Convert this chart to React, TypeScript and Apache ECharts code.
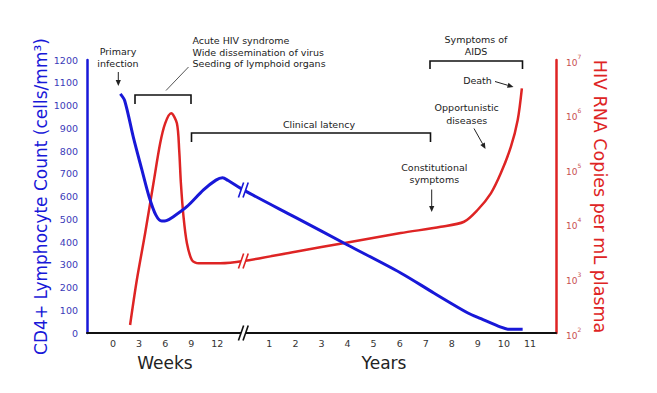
import React, { useEffect, useRef } from 'react';
import * as echarts from 'echarts';

// ---- data (x in chart units: weeks 0..12 -> 1..5, years 1..11 -> 7..17) ----
const weekTickLabels = ['0', '3', '6', '9', '12'];
const yearTickLabels = ['1', '2', '3', '4', '5', '6', '7', '8', '9', '10', '11'];

const cd4X = [1.28, 1.45, 1.78, 2.10, 2.38, 2.64, 2.87, 3.05, 3.30, 3.83, 4.47, 4.95, 5.20, 5.42, 6.0, 8.0, 10.0, 12.04, 13.31, 14.62, 15.12, 15.88, 16.15, 16.72];
const cd4Values = [1051, 1020, 860, 720, 600, 519, 492, 494, 510, 555, 629, 672, 682, 670, 629, 508, 387, 264, 176, 88, 63, 26, 17, 16];

const rnaX = [1.654, 1.912, 2.231, 2.55, 2.808, 3.0, 3.231, 3.45, 3.538, 3.604, 3.704, 3.835, 4.027, 4.281, 5.115, 6.0, 8.0, 10.0, 12.04, 13.58, 14.47, 14.99, 15.5, 15.88, 16.27, 16.53, 16.69];
const rnaValues = [140, 933, 6700, 55200, 298000, 692000, 1057000, 692000, 225000, 55200, 13500, 4400, 2170, 1890, 1890, 2080, 3080, 4560, 6760, 8800, 10900, 17900, 36200, 84100, 258000, 794000, 3020000];

const breakX = 6;
const cd4Break = 629;
const rnaBreak = 2080;

const BLUE = '#1818d8';
const RED = '#de2424';
const TXT = '#222';
const FONT = 'DejaVu Sans';

function breakMark(cx: number, cy: number, color: string, lw: number) {
  const dx = 2.6, dy = 7.5, gap = 2.3;
  return [
    {
      type: 'polygon', z: 100,
      shape: { points: [[cx - gap - dx, cy + dy], [cx - gap + dx, cy - dy], [cx + gap + dx, cy - dy], [cx + gap - dx, cy + dy]] },
      style: { fill: '#fff' },
    },
    { type: 'line', z: 101, shape: { x1: cx - gap - dx, y1: cy + dy, x2: cx - gap + dx, y2: cy - dy }, style: { stroke: color, lineWidth: lw } },
    { type: 'line', z: 101, shape: { x1: cx + gap - dx, y1: cy + dy, x2: cx + gap + dx, y2: cy - dy }, style: { stroke: color, lineWidth: lw } },
  ];
}

function arrow(x1: number, y1: number, x2: number, y2: number) {
  const ang = Math.atan2(y2 - y1, x2 - x1);
  const L = 6, W = 2.6;
  const bx = x2 - L * Math.cos(ang), by = y2 - L * Math.sin(ang);
  const px = -Math.sin(ang) * W, py = Math.cos(ang) * W;
  return [
    { type: 'line', z: 100, shape: { x1, y1, x2: bx, y2: by }, style: { stroke: TXT, lineWidth: 1 } },
    { type: 'polygon', z: 100, shape: { points: [[x2, y2], [bx + px, by + py], [bx - px, by - py]] }, style: { fill: TXT } },
  ];
}

function txt(x: number, y: number, text: string, align: string = 'center', size = 9.5, color = TXT) {
  return {
    type: 'text', z: 100, x, y,
    style: { text, fill: color, font: `${size}px "${FONT}"`, textAlign: align, textVerticalAlign: 'middle' },
  };
}

function bracket(x1: number, x2: number, y: number, drop: number) {
  return {
    type: 'polyline', z: 100,
    shape: { points: [[x1, y + drop], [x1, y], [x2, y], [x2, y + drop]] },
    style: { stroke: '#111', lineWidth: 1.6, fill: null },
  };
}

export default function App() {
  const ref = useRef<HTMLDivElement>(null);
  useEffect(() => {
    if (!ref.current) return;
    const chart = echarts.init(ref.current, null, { renderer: 'svg' });
    chart.setOption({
      animation: false,
      backgroundColor: '#fff',
      textStyle: { fontFamily: FONT },
      grid: { left: 87, right: 101, top: 60, bottom: 60 },
      xAxis: {
        type: 'value', min: 0, max: 18, interval: 1,
        axisLine: { show: true, lineStyle: { color: '#111', width: 2 } },
        axisTick: { show: false },
        splitLine: { show: false },
        axisLabel: {
          color: '#333', fontSize: 9.5, margin: 5, fontFamily: FONT,
          formatter: (v: number) => {
            if (v >= 1 && v <= 5) return weekTickLabels[v - 1];
            if (v >= 7 && v <= 17) return yearTickLabels[v - 7];
            return '';
          },
        },
      },
      yAxis: [
        {
          type: 'value', min: 0, max: 1200, interval: 100, position: 'left',
          name: 'CD4+ Lymphocyte Count (cells/mm³)', nameLocation: 'middle', nameGap: 38, nameRotate: 90,
          nameMoveOverlap: false,
          nameTextStyle: { color: BLUE, fontSize: 17, fontFamily: FONT },
          axisLine: { show: true, lineStyle: { color: BLUE, width: 2.5 } },
          axisTick: { show: false },
          splitLine: { show: false },
          axisLabel: { color: '#3a3ab8', fontSize: 9.5, margin: 9, fontFamily: FONT, formatter: (v: number) => String(v) },
        },
        {
          type: 'log', logBase: 10, min: 100, max: 10000000, position: 'right',
          name: 'HIV RNA Copies per mL plasma', nameLocation: 'middle', nameGap: 35, nameRotate: -90,
          nameMoveOverlap: false,
          nameTextStyle: { color: RED, fontSize: 17.5, fontFamily: FONT },
          axisLine: { show: true, lineStyle: { color: RED, width: 2.5 } },
          axisTick: { show: false },
          splitLine: { show: false },
          axisLabel: {
            color: '#c85050', margin: 10, fontFamily: FONT,
            formatter: (v: number) => `{b|10}{s|${Math.round(Math.log10(v))}}`,
            rich: {
              b: { fontSize: 9, color: '#c85050', fontFamily: FONT, lineHeight: 14, verticalAlign: 'bottom' },
              s: { fontSize: 6, color: '#c85050', fontFamily: FONT, lineHeight: 14, verticalAlign: 'top' },
            },
          },
        },
      ],
      series: [
        {
          type: 'line', yAxisIndex: 0, smooth: 0.3, showSymbol: false,
          data: cd4X.map((x, i) => [x, cd4Values[i]]),
          lineStyle: { color: BLUE, width: 3 }, itemStyle: { color: BLUE }, z: 3,
        },
        {
          type: 'line', yAxisIndex: 1, smooth: 0.3, showSymbol: false,
          data: rnaX.map((x, i) => [x, rnaValues[i]]),
          lineStyle: { color: RED, width: 2.5 }, itemStyle: { color: RED }, z: 2,
        },
      ],
    });

    const pBlue = chart.convertToPixel({ xAxisIndex: 0, yAxisIndex: 0 }, [breakX, cd4Break]) as number[];
    const pRed = chart.convertToPixel({ xAxisIndex: 0, yAxisIndex: 1 }, [breakX, rnaBreak]) as number[];
    const pAxis = chart.convertToPixel({ xAxisIndex: 0, yAxisIndex: 0 }, [breakX, 0]) as number[];

    const graphics: any[] = [
      ...breakMark(pAxis[0], pAxis[1], '#111', 1.6),
      ...breakMark(pBlue[0], pBlue[1], BLUE, 1.6),
      ...breakMark(pRed[0], pRed[1], RED, 1.6),
      // axis group titles
      txt(165, 363, 'Weeks', 'center', 17, TXT),
      txt(384, 363, 'Years', 'center', 17, TXT),
      // primary infection
      txt(118, 51.5, 'Primary'),
      txt(118, 63.3, 'infection'),
      ...arrow(118.3, 72, 118.3, 86),
      // acute
      txt(192.5, 40.7, 'Acute HIV syndrome', 'left'),
      txt(192.5, 52.3, 'Wide dissemination of virus', 'left'),
      txt(192.5, 63.6, 'Seeding of lymphoid organs', 'left'),
      { type: 'line', z: 100, shape: { x1: 188.5, y1: 67, x2: 166, y2: 90.5 }, style: { stroke: '#555', lineWidth: 1 } },
      bracket(135, 191, 95, 9),
      // clinical latency
      txt(319, 124.5, 'Clinical latency'),
      bracket(191.5, 430.5, 133, 9),
      // AIDS
      txt(476, 39.3, 'Symptoms of'),
      txt(476, 51.7, 'AIDS'),
      bracket(430, 522.5, 61, 8),
      txt(477.5, 80.7, 'Death'),
      ...arrow(495, 81.5, 513.5, 87),
      txt(466.7, 107.7, 'Opportunistic'),
      txt(466.7, 120, 'diseases'),
      ...arrow(474, 128.5, 485.5, 149),
      txt(434.3, 167.3, 'Constitutional'),
      txt(434.3, 179.3, 'symptoms'),
      ...arrow(431.7, 189.5, 431.7, 212),
    ];
    chart.setOption({ graphic: graphics });

    return () => chart.dispose();
  }, []);
  return <div ref={ref} style={{ position: 'fixed', left: 0, top: 0, width: 657, height: 393, background: '#fff' }} />;
}
